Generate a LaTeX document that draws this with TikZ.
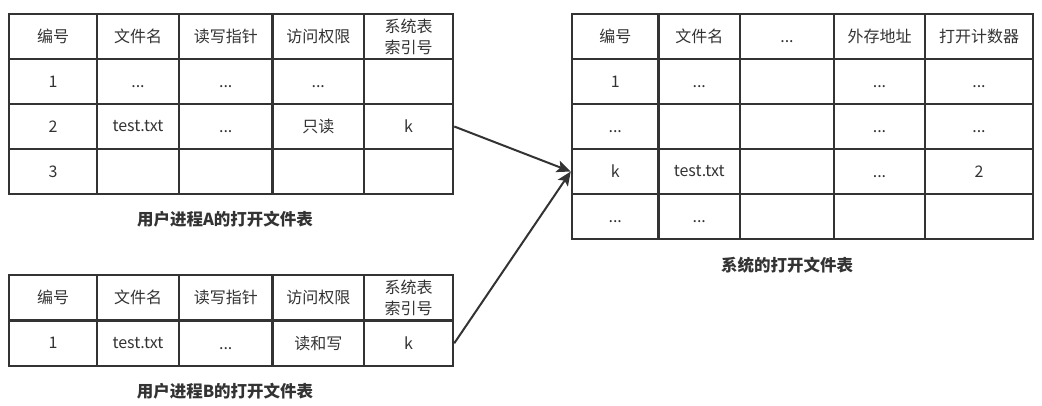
\documentclass[tikz,border=0pt]{standalone}
\usepackage{fontspec}
\setmainfont{Noto Sans CJK SC}
\usepackage{xcolor}
\usepackage{tikz}
\usetikzlibrary{arrows.meta}
\definecolor{ink}{HTML}{333333}
\newcommand{\ellip}{\vphantom{编}...}

\begin{document}
\begin{tikzpicture}[x=1pt, y=-1pt, ->, >={Stealth[length=14pt, width=12pt, inset=3pt]}, line width=2pt,
  cell/.style={rectangle, draw=ink, line width=2.5pt, minimum height=45pt, inner sep=0pt, text=ink, align=center, font={\fontsize{16}{21}\selectfont}, -},
  title/.style={text=ink, font={\fontsize{16.5}{20}\selectfont\bfseries}}]
   \useasboundingbox (0,0) rectangle (1042,405);

   % user table A
   \node [cell, minimum width=88pt] (a11) at (53, 36.5) {编号};
   \node [cell, minimum width=82pt] (a12) at (138, 36.5) {文件名};
   \node [cell, minimum width=93.5pt] (a13) at (225.75, 36.5) {读写指针};
   \node [cell, minimum width=91.5pt] (a14) at (318.25, 36.5) {访问权限};
   \node [cell, minimum width=89pt] (a15) at (408.5, 36.5) {系统表\\索引号};
   \node [cell, minimum width=88pt] (a21) at (53, 81.5) {1};
   \node [cell, minimum width=82pt] (a22) at (138, 81.5) {\ellip};
   \node [cell, minimum width=93.5pt] (a23) at (225.75, 81.5) {\ellip};
   \node [cell, minimum width=91.5pt] (a24) at (318.25, 81.5) {\ellip};
   \node [cell, minimum width=89pt] (a25) at (408.5, 81.5) {};
   \node [cell, minimum width=88pt] (a31) at (53, 126.5) {2};
   \node [cell, minimum width=82pt] (a32) at (138, 126.5) {test.txt};
   \node [cell, minimum width=93.5pt] (a33) at (225.75, 126.5) {\ellip};
   \node [cell, minimum width=91.5pt] (a34) at (318.25, 126.5) {只读};
   \node [cell, minimum width=89pt] (a35) at (408.5, 126.5) {k};
   \node [cell, minimum width=88pt] (a41) at (53, 171.5) {3};
   \node [cell, minimum width=82pt] (a42) at (138, 171.5) {};
   \node [cell, minimum width=93.5pt] (a43) at (225.75, 171.5) {};
   \node [cell, minimum width=91.5pt] (a44) at (318.25, 171.5) {};
   \node [cell, minimum width=89pt] (a45) at (408.5, 171.5) {};
   \node [title] (capa) at (225, 219) {用户进程A的打开文件表};

   % user table B
   \node [cell, minimum width=88pt, minimum height=45.5pt] (b11) at (53, 297.75) {编号};
   \node [cell, minimum width=82pt, minimum height=45.5pt] (b12) at (138, 297.75) {文件名};
   \node [cell, minimum width=93.5pt, minimum height=45.5pt] (b13) at (225.75, 297.75) {读写指针};
   \node [cell, minimum width=91.5pt, minimum height=45.5pt] (b14) at (318.25, 297.75) {访问权限};
   \node [cell, minimum width=89pt, minimum height=45.5pt] (b15) at (408.5, 297.75) {系统表\\索引号};
   \node [cell, minimum width=88pt, minimum height=45.5pt] (b21) at (53, 343.25) {1};
   \node [cell, minimum width=82pt, minimum height=45.5pt] (b22) at (138, 343.25) {test.txt};
   \node [cell, minimum width=93.5pt, minimum height=45.5pt] (b23) at (225.75, 343.25) {\ellip};
   \node [cell, minimum width=91.5pt, minimum height=45.5pt] (b24) at (318.25, 343.25) {读和写};
   \node [cell, minimum width=89pt, minimum height=45.5pt] (b25) at (408.5, 343.25) {k};
   \node [title] (capb) at (225, 391) {用户进程B的打开文件表};

   % system table
   \node [cell, minimum width=86.5pt] (s11) at (615.25, 36.5) {编号};
   \node [cell, minimum width=81.5pt] (s12) at (699.25, 36.5) {文件名};
   \node [cell, minimum width=94pt] (s13) at (787, 36.5) {\ellip};
   \node [cell, minimum width=91pt] (s14) at (879.5, 36.5) {外存地址};
   \node [cell, minimum width=108pt] (s15) at (979, 36.5) {打开计数器};
   \node [cell, minimum width=86.5pt] (s21) at (615.25, 81.5) {1};
   \node [cell, minimum width=81.5pt] (s22) at (699.25, 81.5) {\ellip};
   \node [cell, minimum width=94pt] (s23) at (787, 81.5) {};
   \node [cell, minimum width=91pt] (s24) at (879.5, 81.5) {\ellip};
   \node [cell, minimum width=108pt] (s25) at (979, 81.5) {\ellip};
   \node [cell, minimum width=86.5pt] (s31) at (615.25, 126.5) {\ellip};
   \node [cell, minimum width=81.5pt] (s32) at (699.25, 126.5) {};
   \node [cell, minimum width=94pt] (s33) at (787, 126.5) {};
   \node [cell, minimum width=91pt] (s34) at (879.5, 126.5) {\ellip};
   \node [cell, minimum width=108pt] (s35) at (979, 126.5) {\ellip};
   \node [cell, minimum width=86.5pt] (s41) at (615.25, 171.5) {k};
   \node [cell, minimum width=81.5pt] (s42) at (699.25, 171.5) {test.txt};
   \node [cell, minimum width=94pt] (s43) at (787, 171.5) {};
   \node [cell, minimum width=91pt] (s44) at (879.5, 171.5) {\ellip};
   \node [cell, minimum width=108pt] (s45) at (979, 171.5) {2};
   \node [cell, minimum width=86.5pt] (s51) at (615.25, 216.5) {\ellip};
   \node [cell, minimum width=81.5pt] (s52) at (699.25, 216.5) {\ellip};
   \node [cell, minimum width=94pt] (s53) at (787, 216.5) {};
   \node [cell, minimum width=91pt] (s54) at (879.5, 216.5) {};
   \node [cell, minimum width=108pt] (s55) at (979, 216.5) {};
   \node [title] (caps) at (787, 265) {系统的打开文件表};

   \draw [ink] (a35.east) -- (s41.west);
   \draw [ink] (b25.east) -- (s41.west);
\end{tikzpicture}
\end{document}
